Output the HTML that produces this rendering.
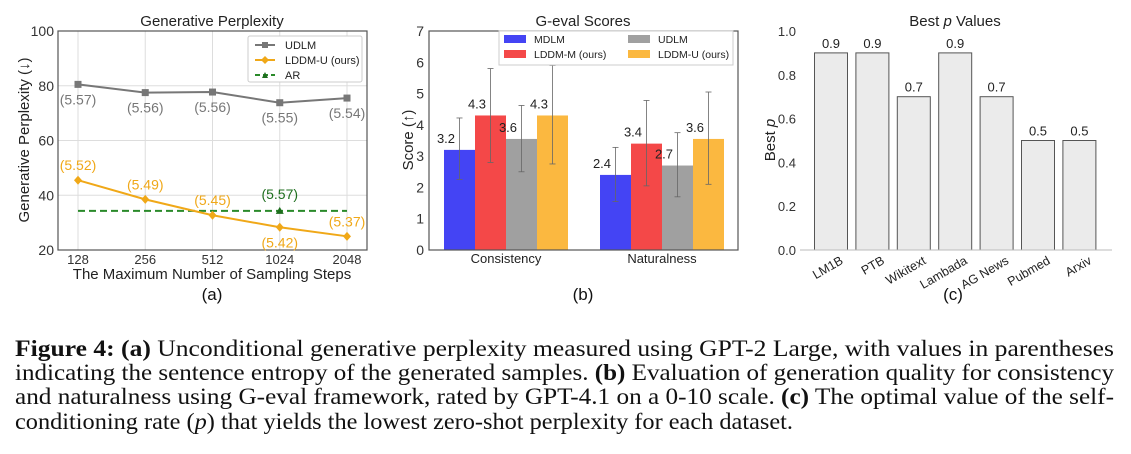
<!DOCTYPE html>
<html><head><meta charset="utf-8"><style>
body{margin:0;background:#fff;width:1131px;height:454px;overflow:hidden}
svg{display:block;font-family:"Liberation Sans",sans-serif}
.cap{font-family:"Liberation Serif",serif;font-size:23.5px;fill:#111}
</style></head><body>
<svg id="fig" width="1131" height="454" viewBox="0 0 1131 454">
<g id="pa"></g>
<g id="pb"></g>
<g id="pc"></g>
<g>
<text class="cap" x="15" y="356" textLength="1099" lengthAdjust="spacingAndGlyphs"><tspan font-weight="bold">Figure 4:</tspan> <tspan font-weight="bold">(a)</tspan> Unconditional generative perplexity measured using GPT-2 Large, with values in parentheses</text>
<text class="cap" x="15" y="380" textLength="1099" lengthAdjust="spacingAndGlyphs">indicating the sentence entropy of the generated samples. <tspan font-weight="bold">(b)</tspan> Evaluation of generation quality for consistency</text>
<text class="cap" x="15" y="404" textLength="1099" lengthAdjust="spacingAndGlyphs">and naturalness using G-eval framework, rated by GPT-4.1 on a 0-10 scale. <tspan font-weight="bold">(c)</tspan> The optimal value of the self-</text>
<text class="cap" x="15" y="429" textLength="778" lengthAdjust="spacingAndGlyphs">conditioning rate (<tspan font-style="italic">p</tspan>) that yields the lowest zero-shot perplexity for each dataset.</text>
</g>
</svg>
<script>
// Panel A data
const stepLabels = ["128","256","512","1024","2048"];
const udlmPpl = [80.5, 77.5, 77.7, 73.8, 75.5];
const udlmEnt = ["(5.57)","(5.56)","(5.56)","(5.55)","(5.54)"];
const lddmPpl = [45.5, 38.5, 32.7, 28.3, 25.0];
const lddmEnt = ["(5.52)","(5.49)","(5.45)","(5.42)","(5.37)"];
const arPpl = 34.3;
const arEnt = "(5.57)";
const aTicks = [20, 40, 60, 80, 100];
// Panel B data
const bGroups = ["Consistency","Naturalness"];
const bSeries = ["MDLM","LDDM-M (ours)","UDLM","LDDM-U (ours)"];
const bValues = [[3.2, 2.4],[4.3, 3.4],[3.55, 2.7],[4.3, 3.55]];
const bLabels = [["3.2","2.4"],["4.3","3.4"],["3.6","2.7"],["4.3","3.6"]];
const bErrLo = [[2.25, 1.55],[2.8, 2.05],[2.5, 1.7],[2.75, 2.1]];
const bErrHi = [[4.22, 3.28],[5.8, 4.78],[4.62, 3.75],[5.9, 5.05]];
const bTicks = [0,1,2,3,4,5,6,7];
// Panel C data
const cDatasets = ["LM1B","PTB","Wikitext","Lambada","AG News","Pubmed","Arxiv"];
const cValues = [0.9, 0.9, 0.7, 0.9, 0.7, 0.5, 0.5];
const cTicks = [0.0, 0.2, 0.4, 0.6, 0.8, 1.0];

const NS = "http://www.w3.org/2000/svg";
function mk(parent, tag, attrs, txt){
  const e = document.createElementNS(NS, tag);
  for (const k in attrs) e.setAttribute(k, attrs[k]);
  if (txt !== undefined) e.textContent = txt;
  parent.appendChild(e);
  return e;
}

// ---------- Panel A ----------
(function(){
  const g = document.getElementById('pa');
  const L=58,R=367,T=31,B=250;
  const y = v => B - (v-20)/(100-20)*(B-T);
  const x = i => 78 + i*(347-78)/(stepLabels.length-1);
  let e;
  e = mk(g,'rect',{x:L,y:T,width:R-L,height:B-T,fill:'#fff'});
   
  aTicks.forEach(t=>{
    e = mk(g,'line',{x1:L,x2:R,y1:y(t),y2:y(t),stroke:'#ddd','stroke-width':1});
     
    e = mk(g,'text',{x:L-4,y:y(t)+5,'text-anchor':'end','font-size':14,fill:'#333'},t);
     
  });
  stepLabels.forEach((s,i)=>{
    e = mk(g,'line',{x1:x(i),x2:x(i),y1:T,y2:B,stroke:'#ddd','stroke-width':1});
     
    e = mk(g,'text',{x:x(i),y:B+14,'text-anchor':'middle','font-size':13,fill:'#333'},s);
     
  });
  e = mk(g,'rect',{x:L,y:T,width:R-L,height:B-T,fill:'none',stroke:'#555','stroke-width':1.2});
   
  e = mk(g,'line',{x1:x(0),x2:x(4),y1:y(arPpl),y2:y(arPpl),stroke:'#2a8a2a','stroke-width':2,'stroke-dasharray':'7,4'});
   
  e = mk(g,'path',{d:`M${x(3)-4},${y(arPpl)+3}L${x(3)+4},${y(arPpl)+3}L${x(3)},${y(arPpl)-4}Z`,fill:'#1e6e1e'});
   
  e = mk(g,'text',{x:x(3),y:y(arPpl)-12,'text-anchor':'middle','font-size':14,fill:'#1e6e1e'},arEnt);
   
  e = mk(g,'polyline',{points:udlmPpl.map((v,i)=>x(i)+','+y(v)).join(' '),fill:'none',stroke:'#777','stroke-width':2});
   
  udlmPpl.forEach((v,i)=>{
    e = mk(g,'rect',{x:x(i)-3.5,y:y(v)-3.5,width:7,height:7,fill:'#777'});
     
    e = mk(g,'text',{x:x(i),y:y(v)+20,'text-anchor':'middle','font-size':14,fill:'#777'},udlmEnt[i]);
     
  });
  const oc='#f0a818';
  e = mk(g,'polyline',{points:lddmPpl.map((v,i)=>x(i)+','+y(v)).join(' '),fill:'none',stroke:oc,'stroke-width':2});
   
  lddmPpl.forEach((v,i)=>{
    e = mk(g,'path',{d:`M${x(i)},${y(v)-4.5}L${x(i)+4},${y(v)}L${x(i)},${y(v)+4.5}L${x(i)-4},${y(v)}Z`,fill:oc});
     
    const below = i===3;
    e = mk(g,'text',{x:x(i),y:below? y(v)+20 : y(v)-10,'text-anchor':'middle','font-size':14,fill:oc},lddmEnt[i]);
     
  });
  const lg = mk(g,'g',{});
   
  mk(lg,'rect',{x:248,y:36,width:114,height:46,fill:'#fff',stroke:'#ccc',rx:2});
  mk(lg,'line',{x1:255,x2:275,y1:45,y2:45,stroke:'#777','stroke-width':2});
  mk(lg,'rect',{x:262,y:42,width:6,height:6,fill:'#777'});
  e = mk(lg,'text',{x:285,y:49,'font-size':11,fill:'#222'},'UDLM');
   
  mk(lg,'line',{x1:255,x2:275,y1:60,y2:60,stroke:oc,'stroke-width':2});
  mk(lg,'path',{d:'M265,56L269,60L265,64L261,60Z',fill:oc});
  e = mk(lg,'text',{x:285,y:64,'font-size':11,fill:'#222'},'LDDM-U (ours)');
   
  mk(lg,'line',{x1:255,x2:275,y1:75,y2:75,stroke:'#2a8a2a','stroke-width':2,'stroke-dasharray':'5,3'});
  mk(lg,'path',{d:'M262,78L268,78L265,72Z',fill:'#1e6e1e'});
  e = mk(lg,'text',{x:285,y:79,'font-size':11,fill:'#222'},'AR');
   
  e = mk(g,'text',{x:212,y:26,'text-anchor':'middle','font-size':15,fill:'#222'},'Generative Perplexity');
   
  e = mk(g,'text',{x:29,y:140,'text-anchor':'middle','font-size':15,fill:'#222',transform:'rotate(-90 29 140)'},'Generative Perplexity (↓)');
   
  e = mk(g,'text',{x:212,y:279,'text-anchor':'middle','font-size':15,fill:'#222'},'The Maximum Number of Sampling Steps');
   
  e = mk(g,'text',{x:212,y:300,'text-anchor':'middle','font-size':17,fill:'#111'},'(a)');
   
})();

// ---------- Panel B ----------
(function(){
  const g = document.getElementById('pb');
  const L=429,R=738,T=31,B=250;
  const y = v => B - v/7*(B-T);
  const centers=[506,662], bw=31;
  const cols=['#4444f4','#f44848','#a0a0a0','#fbb840'];
  let e;
  bTicks.forEach(t=>{
    e = mk(g,'text',{x:L-5,y:y(t)+5,'text-anchor':'end','font-size':14,fill:'#333'},t);
     
  });
  bSeries.forEach((s,si)=>{
    bGroups.forEach((gname,gi)=>{
      const x0 = centers[gi] - 2*bw + si*bw;
      e = mk(g,'rect',{x:x0,y:y(bValues[si][gi]),width:bw,height:B-y(bValues[si][gi]),fill:cols[si]});
       
      const cx = x0+bw/2;
      e = mk(g,'line',{x1:cx,x2:cx,y1:y(bErrLo[si][gi]),y2:y(bErrHi[si][gi]),stroke:'#666','stroke-width':0.8});
       
      mk(g,'line',{x1:cx-3,x2:cx+3,y1:y(bErrLo[si][gi]),y2:y(bErrLo[si][gi]),stroke:'#666','stroke-width':0.8});
      mk(g,'line',{x1:cx-3,x2:cx+3,y1:y(bErrHi[si][gi]),y2:y(bErrHi[si][gi]),stroke:'#666','stroke-width':0.8});
      e = mk(g,'text',{x:x0+2,y:y(bValues[si][gi])-7,'text-anchor':'middle','font-size':13,fill:'#222'},bLabels[si][gi]);
       
    });
  });
  bGroups.forEach((gname,gi)=>{
    e = mk(g,'text',{x:centers[gi],y:B+13,'text-anchor':'middle','font-size':13,fill:'#222'},gname);
     
  });
  e = mk(g,'rect',{x:L,y:T,width:R-L,height:B-T,fill:'none',stroke:'#555','stroke-width':1.2});
   
  const lg = mk(g,'g',{});
   
  mk(lg,'rect',{x:499,y:31,width:234,height:34,fill:'#fff',stroke:'#ccc'});
  const lp=[[504,35],[504,50],[628,35],[628,50]];
  bSeries.forEach((s,si)=>{
    mk(lg,'rect',{x:lp[si][0],y:lp[si][1],width:22,height:8,fill:cols[si]});
    e = mk(lg,'text',{x:lp[si][0]+30,y:lp[si][1]+8,'font-size':10.5,fill:'#222'},s);
     
  });
  e = mk(g,'text',{x:583,y:26,'text-anchor':'middle','font-size':15,fill:'#222'},'G-eval Scores');
   
  e = mk(g,'text',{x:413,y:140,'text-anchor':'middle','font-size':15,fill:'#222',transform:'rotate(-90 413 140)'},'Score (↑)');
   
  e = mk(g,'text',{x:583,y:300,'text-anchor':'middle','font-size':17,fill:'#111'},'(b)');
   
})();

// ---------- Panel C ----------
(function(){
  const g = document.getElementById('pc');
  const L=800,R=1112,T=31,B=250;
  const y = v => B - v/1.0*(B-T);
  const step=41.4, bw=33, c0=831;
  let e;
  cTicks.forEach(t=>{
    e = mk(g,'text',{x:L-4,y:y(t)+5,'text-anchor':'end','font-size':13,fill:'#333'},t.toFixed(1));
     
  });
  cDatasets.forEach((d,i)=>{
    const cx=c0+i*step;
    e = mk(g,'rect',{x:cx-bw/2,y:y(cValues[i]),width:bw,height:B-y(cValues[i]),fill:'#ebebeb',stroke:'#555','stroke-width':1});
     
    e = mk(g,'text',{x:cx,y:y(cValues[i])-5,'text-anchor':'middle','font-size':13,fill:'#222'},cValues[i].toFixed(1));
     
    e = mk(g,'text',{x:cx+13,y:B+13,'text-anchor':'end','font-size':12.5,fill:'#222',transform:`rotate(-30 ${cx+13} ${B+13})`},d);
     
  });
  e = mk(g,'line',{x1:L,x2:R,y1:B,y2:B,stroke:'#bbb','stroke-width':1});
   
  e = mk(g,'text',{x:955,y:26,'text-anchor':'middle','font-size':15,fill:'#222'});
  e.innerHTML='Best <tspan font-style="italic">p</tspan> Values';
   
  e = mk(g,'text',{x:775,y:140,'text-anchor':'middle','font-size':15,fill:'#222',transform:'rotate(-90 775 140)'});
  e.innerHTML='Best <tspan font-style="italic">p</tspan>';
   
  e = mk(g,'text',{x:953,y:300,'text-anchor':'middle','font-size':17,fill:'#111'},'(c)');
   
})();
</script>
</body></html>
